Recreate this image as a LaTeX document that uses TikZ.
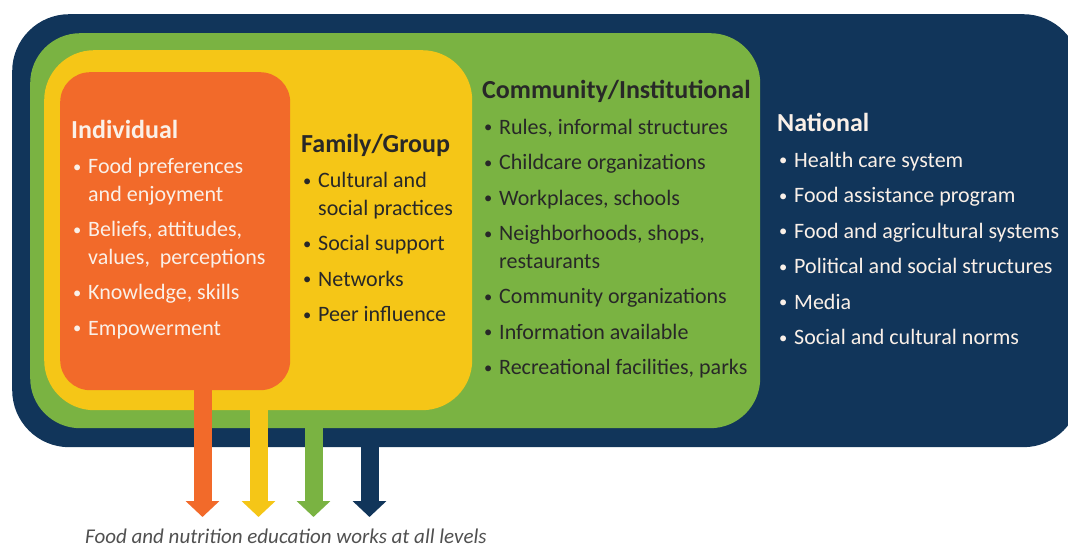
\documentclass[tikz,border=0pt]{standalone}
\usepackage{fontspec}
\setmainfont{Carlito}
\usetikzlibrary{arrows.meta}
\definecolor{natBlue}{RGB}{17,53,90}
\definecolor{comGreen}{RGB}{122,179,66}
\definecolor{famYellow}{RGB}{245,198,23}
\definecolor{indOrange}{RGB}{242,106,42}
\definecolor{darkText}{RGB}{40,40,40}
\definecolor{lightText}{RGB}{250,240,232}
\definecolor{capGray}{RGB}{80,80,80}
\newcommand{\bul}{\makebox[17pt][l]{\hspace{2pt}\raisebox{1.6pt}{\scalebox{0.75}{\textbullet}}}}
\newcommand{\ind}{\hspace*{17pt}}
\newcommand{\lvlhead}[1]{{\fontsize{26}{27.5}\selectfont\bfseries #1}}

\begin{document}
\begin{tikzpicture}[x=1pt,y=-1pt,
    level/.style={rounded corners=#1, inner sep=0pt, anchor=north west},
    listtext/.style={inner sep=0pt, anchor=north west, align=left, font=\fontsize{22}{27.5}\selectfont},
    reach/.style={line width=18pt, -{Triangle[width=33pt,length=16pt]}}
  ]
  \useasboundingbox (0,0) rectangle (1068,548);
  \clip (0,0) rectangle (1068,548);

  % nested levels
  \node[level=57pt, fill=natBlue, minimum width=1068pt, minimum height=433pt] (national) at (12,14) {};
  \node[level=50pt, fill=comGreen, minimum width=730pt, minimum height=395pt] (community) at (30,33) {};
  \node[level=50pt, fill=famYellow, minimum width=428pt, minimum height=360pt] (family) at (44,50) {};
  \node[level=30pt, fill=indOrange, minimum width=230pt, minimum height=318pt] (individual) at (60,72) {};

  % lists
  \node[listtext, text=lightText] (indivList) at (71,120.5) {%
    \lvlhead{Individual}\\[7.5pt]
    \bul Food preferences\\
    \ind and enjoyment\\[8pt]
    \bul Beliefs, attitudes,\\
    \ind values,\ \ perceptions\\[8pt]
    \bul Knowledge, skills\\[8pt]
    \bul Empowerment};
  \node[listtext, text=darkText] (famList) at (301,134.5) {%
    \lvlhead{Family/Group}\\[7.5pt]
    \bul Cultural and\\
    \ind social practices\\[8pt]
    \bul Social support\\[8pt]
    \bul Networks\\[8pt]
    \bul Peer influence};
  \node[listtext, text=darkText] (comList) at (482,80.5) {%
    \lvlhead{Community/Institutional}\\[8pt]
    \bul Rules, informal structures\\[8pt]
    \bul Childcare organizations\\[8pt]
    \bul Workplaces, schools\\[8pt]
    \bul Neighborhoods, shops,\\
    \ind restaurants\\[8pt]
    \bul Community organizations\\[8pt]
    \bul Information available\\[8pt]
    \bul Recreational facilities, parks};
  \node[listtext, text=lightText] (natList) at (777,113.5) {%
    \lvlhead{National}\\[8pt]
    \bul Health care system\\[8pt]
    \bul Food assistance program\\[8pt]
    \bul Food and agricultural systems\\[8pt]
    \bul Political and social structures\\[8pt]
    \bul Media\\[8pt]
    \bul Social and cultural norms};

  % arrows out of each level
  \coordinate (tipInd) at (202.5,517);
  \coordinate (tipFam) at (258.5,517);
  \coordinate (tipCom) at (313.5,517);
  \coordinate (tipNat) at (369.5,517);
  \draw[reach, indOrange] (individual.south -| tipInd) -- (tipInd);
  \draw[reach, famYellow] (family.south -| tipFam) -- (tipFam);
  \draw[reach, comGreen] (community.south -| tipCom) -- (tipCom);
  \draw[reach, natBlue] (national.south -| tipNat) -- (tipNat);

  \node[anchor=base west, inner sep=0pt, text=capGray, font=\fontsize{21}{24}\selectfont\itshape] (caption) at (85,543) {Food and nutrition education works at all levels};
\end{tikzpicture}
\end{document}
